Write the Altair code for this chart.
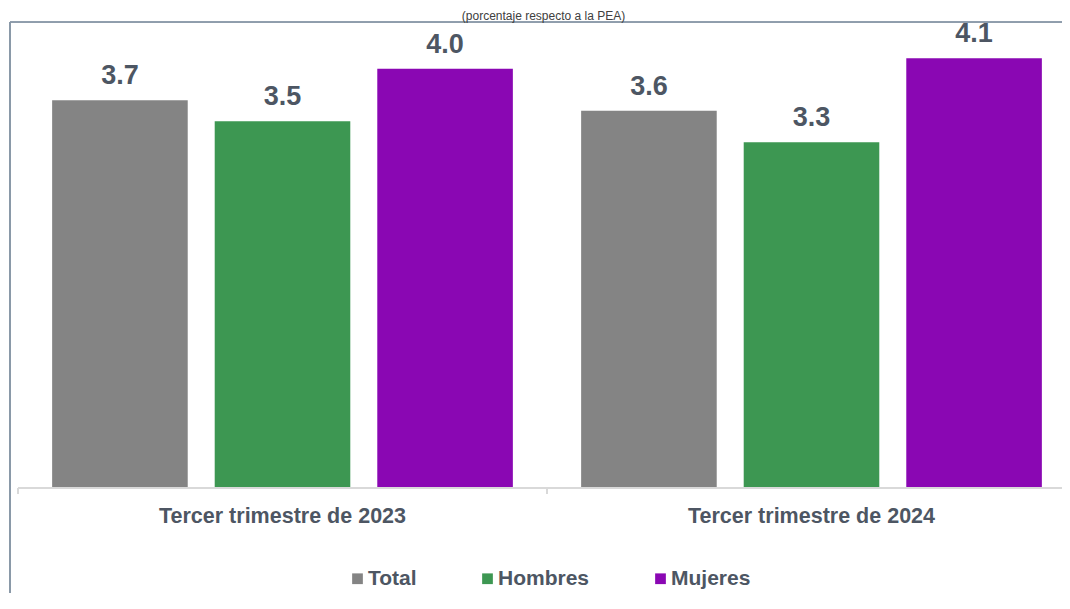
import altair as alt
import pandas as pd

categories = ["Tercer trimestre de 2023", "Tercer trimestre de 2024"]
series = ["Total", "Hombres", "Mujeres"]
values_2023 = [3.7, 3.5, 4.0]
values_2024 = [3.6, 3.3, 4.1]
colors = ["#848484", "#3d9752", "#8a07b3"]
title_text = "(porcentaje respecto a la PEA)"

rows = []
for cat, vals in zip(categories, [values_2023, values_2024]):
    for s, v in zip(series, vals):
        rows.append({"periodo": cat, "serie": s, "valor": v})
df = pd.DataFrame(rows)
cat_df = pd.DataFrame({"periodo": categories})

FONT = "Liberation Sans"
TXT = "#4d5663"
FRAME = "#8a99a8"
AXIS = "#d9d9d9"
VIEW_W = 1052
VIEW_H = 571
BASE = 466  # baseline position inside the plot area

x_scale = alt.Scale(range=[8, 1066], paddingInner=0, paddingOuter=0)
x_axis = alt.Axis(
    title=None,
    orient="bottom",
    offset=-(VIEW_H - BASE),
    labelAngle=0,
    labelLimit=0,
    labelFont=FONT,
    labelFontSize=21.5,
    labelFontWeight="bold",
    labelColor=TXT,
    labelPadding=17,
    domain=False,
    ticks=False,
)
x = alt.X("periodo:N", sort=categories, scale=x_scale, axis=x_axis)
x_edge = alt.X("periodo:N", sort=categories, scale=x_scale, axis=x_axis, bandPosition=0)
xo = alt.XOffset(
    "serie:N",
    sort=series,
    scale=alt.Scale(paddingInner=0.166, paddingOuter=0.21),
)
y_scale = alt.Scale(domain=[0, 4.5], range=[BASE, BASE - 4.5 * 104.8], nice=False, zero=True)
y = alt.Y("valor:Q", scale=y_scale, axis=None)

bars = alt.Chart(df).mark_bar().encode(
    x=x,
    xOffset=xo,
    y=y,
    color=alt.Color(
        "serie:N",
        sort=series,
        scale=alt.Scale(domain=series, range=colors),
        legend=alt.Legend(
            title=None,
            orient="none",
            legendX=337,
            legendY=546,
            direction="horizontal",
            columns=3,
            symbolType="square",
            symbolSize=115,
            symbolStrokeWidth=0,
            labelFont=FONT,
            labelFontSize=21,
            labelFontWeight="bold",
            labelColor=TXT,
            labelOffset=0,
            columnPadding=60,
            padding=0,
        ),
    ),
)

labels = alt.Chart(df).mark_text(
    font=FONT,
    fontSize=27,
    fontWeight="bold",
    color=TXT,
    baseline="alphabetic",
    dy=-16,
).encode(
    x=x,
    xOffset=xo,
    y=y,
    text=alt.Text("valor:Q", format=".1f"),
)

# category axis line and boundary ticks
baseline = alt.Chart(cat_df).mark_rule(color=AXIS, strokeWidth=2).encode(
    x=alt.value(8), x2=alt.value(1058), y=alt.datum(0, type="quantitative", scale=y_scale)
)
edge_ticks = alt.Chart(cat_df).mark_rule(color=AXIS, strokeWidth=2).encode(
    x=x_edge, y=alt.datum(0, type="quantitative", scale=y_scale), y2=alt.value(BASE + 6)
)

# outer frame (left and top edges)
frame_left = alt.Chart(cat_df).mark_rule(color=FRAME, strokeWidth=2).encode(
    x=alt.value(0), y=alt.value(0), y2=alt.value(585)
)
frame_top = alt.Chart(cat_df).mark_rule(color=FRAME, strokeWidth=1.6).encode(
    x=alt.value(0), x2=alt.value(1058), y=alt.value(0)
)

title = alt.Chart(pd.DataFrame({"t": [title_text]})).mark_text(
    font=FONT, fontSize=12, color="#404040", baseline="alphabetic", align="center"
).encode(x=alt.value(533.5), y=alt.value(-2.5), text="t:N")

chart = (
    alt.layer(bars, labels, baseline, edge_ticks, frame_left, frame_top, title)
    .properties(
        width=VIEW_W,
        height=VIEW_H,
        padding={"left": 2, "top": 14, "right": 0, "bottom": 0},
        autosize=alt.AutoSizeParams(type="none"),
    )
    .configure_view(strokeWidth=0)
    .configure(background="white")
)

chart.save("out.html", embed_options={"renderer": "svg", "actions": False})
